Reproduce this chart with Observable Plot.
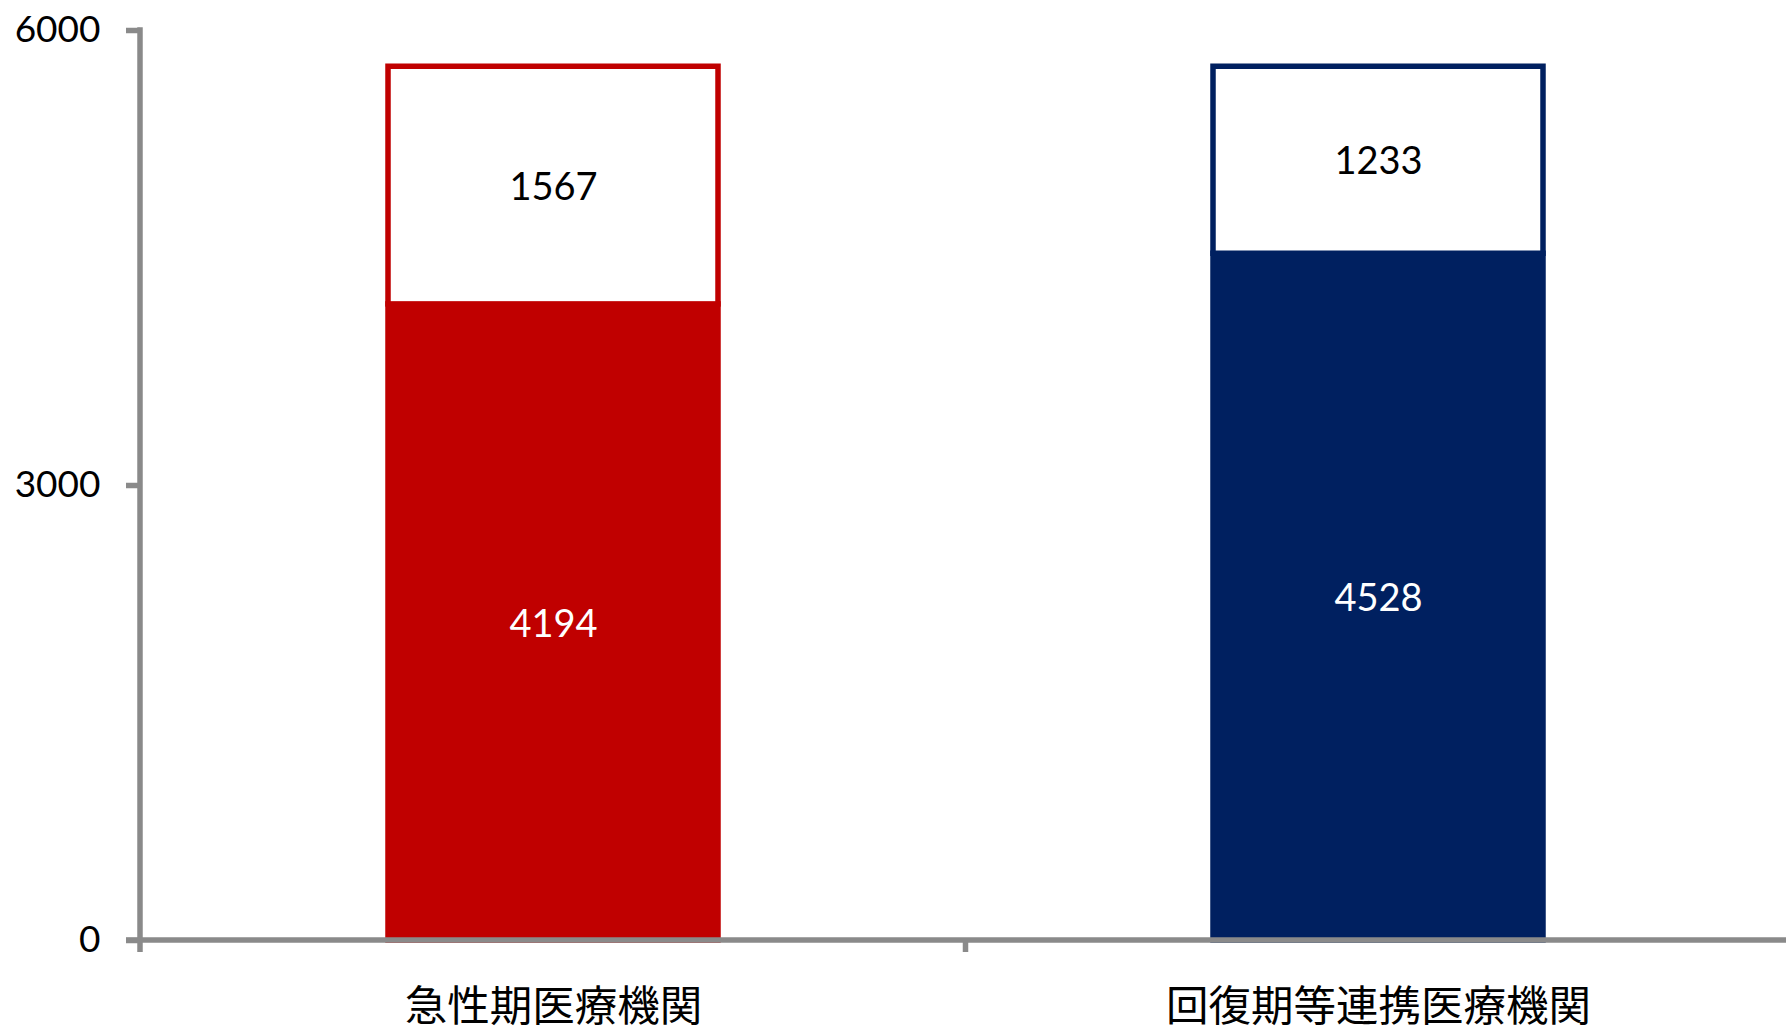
<!DOCTYPE html>
<html><head><meta charset="utf-8">
<script src="https://cdn.jsdelivr.net/npm/d3@7"></script>
<script src="https://cdn.jsdelivr.net/npm/@observablehq/plot@0.6"></script>
<style>body{margin:0;background:#fff}</style>
</head><body><div id="chart"></div>
<script>
const categories = ["急性期医療機関", "回復期等連携医療機関"];
const baseValues = [4194, 4528];
const topValues = [1567, 1233];
const colors = ["#C00000", "#002060"];
const yTicks = [0, 3000, 6000];

const base = categories.map((c, i) => ({cat: c, y1: 0, y2: baseValues[i], v: baseValues[i], color: colors[i]}));
const tops = categories.map((c, i) => ({cat: c, y1: baseValues[i], y2: baseValues[i] + topValues[i], v: topValues[i], color: colors[i]}));

const axisGray = "#8a8a8a";
const axisWidth = 5.5;
const W = 1786, H = 1030;
const marginLeft = 140;

const chart = Plot.plot({
  width: W, height: H,
  marginLeft: marginLeft, marginRight: -4, marginTop: 30, marginBottom: 90,
  style: {fontFamily: "Lato, 'Noto Sans CJK JP', sans-serif", background: "#fff", overflow: "visible"},
  x: {domain: categories, paddingInner: 0.6, paddingOuter: 0.3},
  y: {domain: [0, 6000]},
  color: {type: "identity"},
  marks: [
    Plot.barY(base, {x: "cat", y1: "y1", y2: "y2", fill: "color", stroke: "color", strokeWidth: 5.5}),
    Plot.barY(tops, {x: "cat", y1: "y1", y2: "y2", fill: "white", stroke: "color", strokeWidth: 5.5}),
    Plot.text(base, {x: "cat", y: d => (d.y1 + d.y2) / 2, text: d => String(d.v), fill: "white", fontSize: 38, dy: 2}),
    Plot.text(tops, {x: "cat", y: d => (d.y1 + d.y2) / 2, text: d => String(d.v), fill: "black", fontSize: 38, dy: 2}),
    Plot.axisY({ticks: yTicks, tickSize: 14, tickPadding: 26, stroke: axisGray, strokeWidth: axisWidth, fontSize: 37, fill: "black", label: null, tickFormat: d => String(d)}),
    Plot.axisX({tickSize: 0, tickPadding: 50, fontSize: 42.5, fontFamily: "'Noto Sans CJK JP', sans-serif", label: null, fill: "black"})
  ]
});

// axis lines and category separator ticks, positioned from Plot's own scales
const sx = chart.scale("x"), sy = chart.scale("y");
const bw = sx.bandwidth, step = sx.step;
const starts = categories.map(c => sx.apply(c));
const seps = starts.slice(0, -1).map(p => p + bw + (step - bw) / 2);
const y0 = sy.apply(0), yTop = sy.apply(6000);
const g = d3.select(chart).append("g").attr("stroke", axisGray).attr("stroke-width", axisWidth);
g.append("line").attr("x1", marginLeft).attr("x2", marginLeft).attr("y1", yTop - axisWidth / 2).attr("y2", y0 + 12);
g.append("line").attr("x1", marginLeft - 14).attr("x2", W).attr("y1", y0).attr("y2", y0);
seps.forEach(s => g.append("line").attr("x1", s).attr("x2", s).attr("y1", y0).attr("y2", y0 + 12));

document.getElementById("chart").appendChild(chart);
</script>
</body></html>
